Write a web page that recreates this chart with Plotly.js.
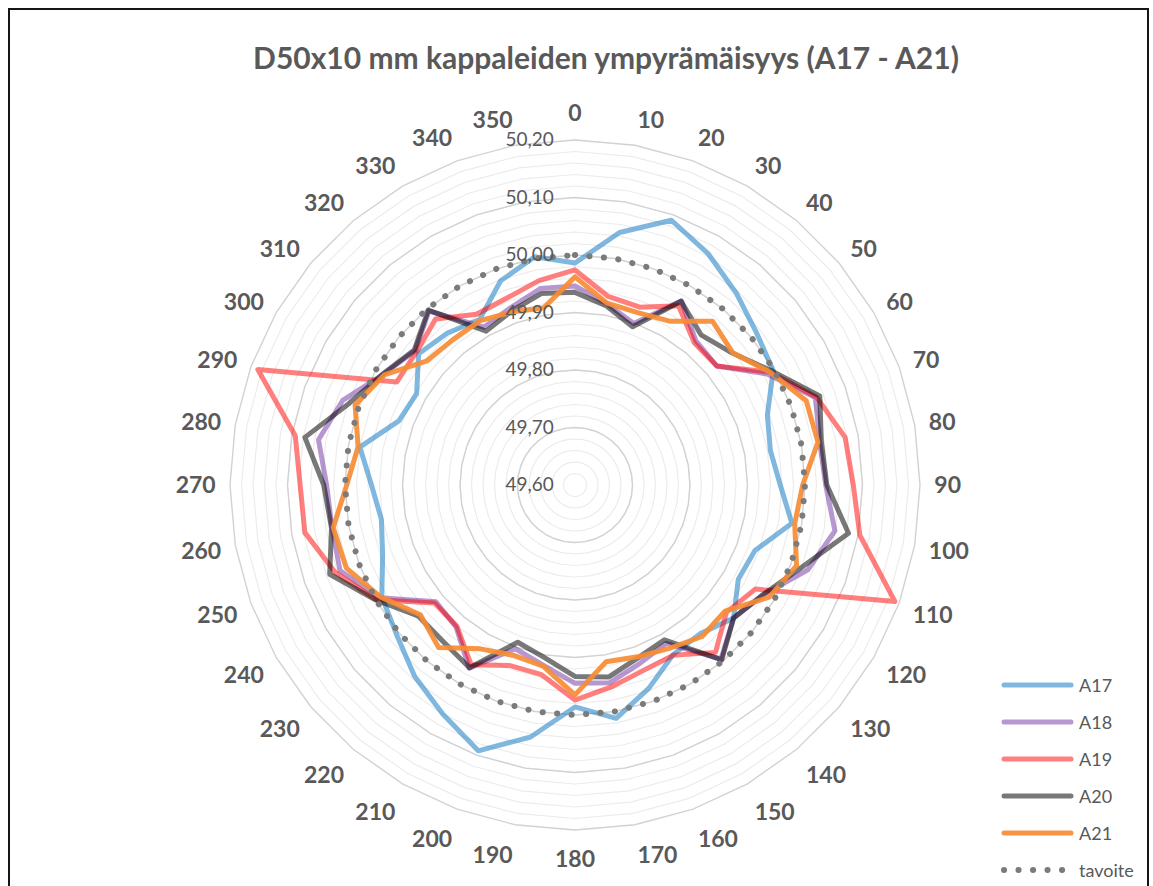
<!DOCTYPE html>
<html>
<head>
<meta charset="utf-8">
<script src="https://cdn.plot.ly/plotly-3.0.1.min.js"></script>
<style>
  html, body { margin: 0; padding: 0; background: #ffffff; }
  #chart { width: 1153px; height: 886px; }
  #frame {
    position: absolute; left: 8px; top: 8px; width: 1137px; height: 900px;
    border: 2px solid #151515; border-bottom: none; pointer-events: none;
  }
  /* round dots for the dotted target ring and softer line ends */
  .polarlayer .scatterlayer path.js-line,
  .shapelayer path { stroke-linecap: round; stroke-linejoin: round; }
</style>
</head>
<body>
<div id="chart"></div>
<div id="frame"></div>
<script>
// Measuring angles (degrees)
const angles = ['0','10','20','30','40','50','60','70','80','90','100','110',
                '120','130','140','150','160','170','180','190','200','210','220','230',
                '240','250','260','270','280','290','300','310','320','330','340','350'];

// Measured diameters per angle (mm)
const a17 = [49.986, 50.046, 50.090, 50.064, 50.036, 50.012, 49.998, 49.956, 49.945, 49.957, 49.983, 49.933,
             49.928, 49.960, 49.938, 49.941, 49.976, 50.012, 49.986, 50.045, 50.092, 50.060, 50.034, 50.005,
             49.988, 49.956, 49.942, 49.954, 49.980, 49.926, 49.918, 49.955, 49.945, 49.932, 49.978, 50.003];
const a18 = [49.946, 49.920, 49.899, 49.970, 49.927, 49.922, 49.986, 50.045, 50.032, 50.036, 50.059, 50.031,
             49.980, 49.960, 49.995, 49.918, 49.930, 49.949, 49.945, 49.918, 49.903, 49.968, 49.922, 49.916,
             49.992, 50.035, 50.029, 50.032, 50.053, 50.030, 49.985, 49.963, 49.995, 49.917, 49.928, 49.947];
const a19 = [49.974, 49.933, 49.929, 49.960, 49.923, 49.922, 49.992, 50.047, 50.077, 50.084, 50.103, 50.192,
             49.962, 49.944, 49.980, 49.942, 49.944, 49.957, 49.974, 49.935, 49.934, 49.961, 49.920, 49.919,
             49.999, 50.044, 50.077, 50.078, 50.094, 50.187, 49.958, 49.960, 49.977, 49.943, 49.946, 49.961];
const a20 = [49.935, 49.916, 49.893, 49.969, 49.941, 49.957, 49.996, 50.053, 50.035, 50.038, 50.083, 50.019,
             49.979, 49.960, 49.997, 49.911, 49.920, 49.939, 49.933, 49.905, 49.891, 49.967, 49.956, 49.955,
             50.000, 50.054, 50.030, 50.037, 50.077, 50.017, 49.986, 49.965, 49.997, 49.909, 49.922, 49.938];
const a21 = [49.962, 49.921, 49.919, 49.929, 49.972, 49.958, 49.992, 50.028, 50.029, 49.996, 49.988, 50.010,
             49.990, 49.941, 49.944, 49.928, 49.918, 49.912, 49.965, 49.920, 49.915, 49.929, 49.969, 49.951,
             49.990, 50.023, 50.027, 49.997, 49.983, 50.007, 49.983, 49.936, 49.930, 49.930, 49.920, 49.913];
// Target diameter
const tavoite = [50.00, 50.00, 50.00, 50.00, 50.00, 50.00, 50.00, 50.00, 50.00, 50.00, 50.00, 50.00,
                 50.00, 50.00, 50.00, 50.00, 50.00, 50.00, 50.00, 50.00, 50.00, 50.00, 50.00, 50.00,
                 50.00, 50.00, 50.00, 50.00, 50.00, 50.00, 50.00, 50.00, 50.00, 50.00, 50.00, 50.00];

const seriesNames = ['A17', 'A18', 'A19', 'A20', 'A21', 'tavoite'];
const seriesValues = [a17, a18, a19, a20, a21, tavoite];

// Radial scale
const radialRange = [49.60, 50.20];
const majorRings = [49.70, 49.80, 49.90, 50.00, 50.10];
const ringTicks = [49.60, 49.62, 49.64, 49.66, 49.68, 49.70, 49.72, 49.74, 49.76, 49.78,
                   49.80, 49.82, 49.84, 49.86, 49.88, 49.90, 49.92, 49.94, 49.96, 49.98,
                   50.00, 50.02, 50.04, 50.06, 50.08, 50.10, 50.12, 50.14, 50.16, 50.18, 50.20];

// ---- styling ----
const W = 1153, H = 886;
const styles = [
  { color: 'rgba(0,112,192,0.5)',  width: 5, dash: 'solid' },
  { color: 'rgba(112,48,160,0.5)', width: 5, dash: 'solid' },
  { color: 'rgba(255,0,0,0.5)',    width: 5, dash: 'solid' },
  { color: 'rgba(0,0,0,0.53)',     width: 5, dash: 'solid' },
  { color: 'rgba(246,140,52,0.92)',width: 5, dash: 'solid' },
  { color: '#7b7b7b',              width: 6, dash: '0.1px,14.4px' }
];
const FONT = 'Lato, "Open Sans", sans-serif';
const TXT = '#595959';

const closed = arr => arr.concat([arr[0]]);
const thetaClosed = closed(angles);

const traces = [];

// darker major rings
majorRings.forEach(v => {
  traces.push({
    type: 'scatterpolar', mode: 'lines',
    r: closed(angles.map(() => v)), theta: thetaClosed,
    line: { color: '#d2d2d2', width: 1.4 },
    hoverinfo: 'skip', showlegend: false
  });
});

seriesNames.forEach((name, i) => {
  traces.push({
    type: 'scatterpolar', mode: 'lines', name: name,
    r: closed(seriesValues[i]), theta: thetaClosed,
    line: { color: styles[i].color, width: styles[i].width, dash: styles[i].dash },
    showlegend: false
  });
});

// polar plot area: centre (575, 485), radius 345 px
const cx = 575, cy = 485, rad = 345;

// legend drawn at the lower right
const legendX0 = 1004, legendX1 = 1071, legendTextX = 1077;
const legendY = [685, 722, 759, 796, 833, 870];
const shapes = [];
const annotations = [];
seriesNames.forEach((name, i) => {
  shapes.push({
    type: 'line', xref: 'paper', yref: 'paper',
    x0: legendX0 / W, x1: legendX1 / W,
    y0: 1 - legendY[i] / H, y1: 1 - legendY[i] / H,
    line: { color: styles[i].color, width: styles[i].width, dash: styles[i].dash }
  });
  annotations.push({
    xref: 'paper', yref: 'paper', x: legendTextX / W, y: 1 - legendY[i] / H,
    xanchor: 'left', yanchor: 'middle', showarrow: false,
    text: name, font: { family: FONT, size: 18, color: TXT }
  });
});

const layout = {
  width: W, height: H,
  margin: { l: 0, r: 0, t: 0, b: 0 },
  paper_bgcolor: '#ffffff',
  showlegend: false,
  title: {
    text: 'D50x10 mm kappaleiden ympyrämäisyys (A17 - A21)',
    font: { family: FONT, size: 30, color: TXT, weight: 'bold' },
    x: 606 / W, xanchor: 'center', y: 1 - 58 / H, yanchor: 'middle'
  },
  polar: {
    domain: { x: [(cx - rad) / W, (cx + rad) / W], y: [1 - (cy + rad) / H, 1 - (cy - rad) / H] },
    bgcolor: '#ffffff',
    gridshape: 'linear',
    angularaxis: {
      type: 'category', categoryarray: angles,
      rotation: 90, direction: 'clockwise',
      showgrid: false, showline: true, linecolor: '#d2d2d2', linewidth: 1.4,
      ticks: 'outside', ticklen: 9, tickcolor: 'rgba(0,0,0,0)',
      tickfont: { family: FONT, size: 23, color: TXT, weight: 'bold' }
    },
    radialaxis: {
      range: radialRange, angle: 90, side: 'counterclockwise',
      tickmode: 'array', tickvals: ringTicks,
      ticktext: ringTicks.map(v => (Math.round(v * 100) % 10 === 0 ? v.toFixed(2).replace('.', ',') : '')),
      showline: false, gridcolor: '#ececec', gridwidth: 1.2,
      ticks: 'outside', ticklen: 14, tickcolor: 'rgba(0,0,0,0)',
      tickangle: 90,
      tickfont: { family: FONT, size: 19, color: TXT }
    }
  },
  shapes: shapes,
  annotations: annotations
};

Plotly.newPlot('chart', traces, layout, { displayModeBar: false, staticPlot: true });
</script>
</body>
</html>
